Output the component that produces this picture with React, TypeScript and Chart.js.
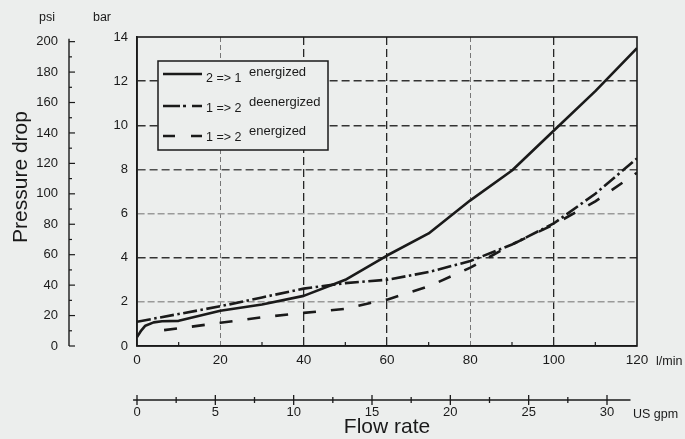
import React, { useEffect, useRef } from "react";
import { Chart, registerables } from "chart.js";

Chart.register(...registerables);

const BG = "#eceeed";
const INK = "#1a1a1a";
const FONT = "'Liberation Sans', Arial, Helvetica, sans-serif";

// axis ranges
const FLOW_MAX = 120; // l/min
const BAR_MAX = 14; // bar
const PSI_PER_BAR = 14.5038;
const LPM_PER_GPM = 3.76; // as drawn on the reference scale

// series: 2 => 1 energized (solid)
const solidFlow = [0, 1, 2, 4, 6, 10, 20, 30, 40, 50, 60, 70, 80, 90, 100, 110, 120];
const solidBar = [0.4, 0.7, 0.92, 1.07, 1.12, 1.14, 1.6, 1.88, 2.27, 3.0, 4.1, 5.1, 6.6, 7.95, 9.75, 11.55, 13.5];

// series: 1 => 2 deenergized (dash-dot)
const dashDotFlow = [0, 10, 20, 30, 40, 50, 60, 70, 80, 90, 100, 110, 120];
const dashDotBar = [1.1, 1.45, 1.8, 2.2, 2.6, 2.85, 3.0, 3.35, 3.85, 4.6, 5.55, 6.9, 8.5];

// series: 1 => 2 energized (dashed)
const dashFlow = [6.5, 10, 20, 30, 40, 50, 56, 60, 70, 80, 90, 100, 110, 120];
const dashBar = [0.72, 0.8, 1.05, 1.3, 1.5, 1.68, 1.95, 2.1, 2.7, 3.55, 4.6, 5.5, 6.55, 7.85];

const seriesCodes = ["2 => 1", "1 => 2", "1 => 2"];
const seriesStates = ["energized", "deenergized", "energized"];

const toPoints = (xs: number[], ys: number[]) => xs.map((x, i) => ({ x, y: ys[i] }));

const legendDash = [[], [17, 3, 3, 6, 12, 100], [12, 16, 12, 100]];

const decor = {
  id: "decor",
  beforeDraw(chart: any) {
    const { ctx, width, height } = chart;
    ctx.save();
    ctx.fillStyle = BG;
    ctx.fillRect(0, 0, width, height);
    ctx.restore();
  },
  afterDraw(chart: any) {
    const { ctx, chartArea: a, scales } = chart;
    const xs = scales.x;
    const ys = scales.y;
    const psi = scales.psi;
    const gpm = scales.gpm;
    const line = (x1: number, y1: number, x2: number, y2: number) => {
      ctx.beginPath();
      ctx.moveTo(x1, y1);
      ctx.lineTo(x2, y2);
      ctx.stroke();
    };
    ctx.save();
    ctx.strokeStyle = INK;
    ctx.setLineDash([]);
    // plot frame
    ctx.lineWidth = 1.6;
    ctx.strokeRect(a.left, a.top, a.right - a.left, a.bottom - a.top);
    // minor ticks on flow axis
    ctx.lineWidth = 1.2;
    for (let v = 10; v < FLOW_MAX; v += 20) {
      const px = xs.getPixelForValue(v);
      line(px, a.bottom, px, a.bottom - 4);
    }
    // psi axis
    const lx = psi.right;
    ctx.lineWidth = 1.4;
    line(lx, psi.getPixelForValue(0), lx, psi.getPixelForValue(200) - 3);
    ctx.lineWidth = 1.2;
    for (let v = 0; v <= 200; v += 10) {
      const py = psi.getPixelForValue(v);
      line(lx, py, lx + (v % 20 === 0 ? 6 : 3), py);
    }
    // gpm axis
    const gy = gpm.top;
    ctx.lineWidth = 1.3;
    line(gpm.getPixelForValue(-0.25), gy, gpm.getPixelForValue(31.5), gy);
    for (let v = 0; v <= 30; v += 2.5) {
      const px = gpm.getPixelForValue(v);
      const h = v % 5 === 0 ? 5 : 3;
      line(px, gy - h, px, gy + h);
    }
    // texts
    ctx.fillStyle = INK;
    ctx.textBaseline = "middle";
    ctx.textAlign = "center";
    ctx.font = `12.5px ${FONT}`;
    ctx.fillText("psi", lx - 22, a.top - 19);
    ctx.fillText("bar", ys.right - 35, a.top - 19);
    ctx.textAlign = "left";
    ctx.fillText("l/min", xs.right + 19, a.bottom + 16);
    ctx.fillText("US gpm", gpm.right - 4, gy + 15);
    ctx.textAlign = "center";
    ctx.font = `21px ${FONT}`;
    ctx.fillText("Flow rate", (a.left + a.right) / 2, 427);
    ctx.save();
    ctx.translate(21, 177);
    ctx.rotate(-Math.PI / 2);
    ctx.fillText("Pressure drop", 0, 0);
    ctx.restore();

    // legend
    const bx = a.left + 21;
    const by = a.top + 24;
    ctx.fillStyle = BG;
    ctx.fillRect(bx, by, 170, 89);
    ctx.lineWidth = 1.5;
    ctx.strokeStyle = INK;
    ctx.strokeRect(bx, by, 170, 89);
    const lineOff = [13, 45, 75];
    const codeOff = [18, 48, 77];
    const stateOff = [11, 41, 70];
    for (let i = 0; i < 3; i++) {
      ctx.save();
      ctx.lineWidth = 2.6;
      ctx.lineCap = "butt";
      ctx.setLineDash(legendDash[i]);
      line(bx + 5, by + lineOff[i], bx + 44, by + lineOff[i]);
      ctx.restore();
      ctx.fillStyle = INK;
      ctx.textAlign = "left";
      ctx.font = `12.5px ${FONT}`;
      ctx.fillText(seriesCodes[i], bx + 48, by + codeOff[i]);
      ctx.font = `13px ${FONT}`;
      ctx.fillText(seriesStates[i], bx + 91, by + stateOff[i]);
    }
    ctx.restore();
  },
};

const xGridStyle = (v: number | undefined) => {
  if (v === undefined || v === 0 || v === FLOW_MAX) return null;
  return v === 20 || v === 80
    ? { color: "#777777", width: 1, dash: [5, 3] }
    : { color: "#262626", width: 1.3, dash: [8, 4] };
};

const yGridStyle = (v: number | undefined) => {
  if (v === undefined || v === 0 || v === BAR_MAX) return null;
  if (v === 2 || v === 6) return { color: "#9a9a9a", width: 1.5, dash: [7, 3] };
  if (v === 8) return { color: "#505050", width: 1.4, dash: [8, 4] };
  return { color: "#333333", width: 1.4, dash: [8, 4] };
};

export default function App() {
  const ref = useRef<HTMLCanvasElement>(null);
  useEffect(() => {
    document.body.style.margin = "0";
    document.body.style.background = BG;
    const tickFont = { family: FONT, size: 13 };
    const chart = new Chart(ref.current as HTMLCanvasElement, {
      type: "line",
      data: {
        datasets: [
          {
            label: "2 => 1 energized",
            data: toPoints(solidFlow, solidBar),
            borderColor: INK,
            borderWidth: 2.6,
            pointRadius: 0,
            tension: 0,
            borderJoinStyle: "round",
          },
          {
            label: "1 => 2 deenergized",
            data: toPoints(dashDotFlow, dashDotBar),
            borderColor: INK,
            borderWidth: 2.6,
            borderDash: [14, 3.5, 2.5, 3.5],
            pointRadius: 0,
            tension: 0,
          },
          {
            label: "1 => 2 energized",
            data: toPoints(dashFlow, dashBar),
            borderColor: INK,
            borderWidth: 2.6,
            borderDash: [13, 15],
            pointRadius: 0,
            tension: 0,
          },
        ],
      } as any,
      options: {
        animation: false,
        responsive: false,
        maintainAspectRatio: false,
        layout: { padding: { top: 37, right: 48, left: 0, bottom: 0 } },
        plugins: { legend: { display: false }, tooltip: { enabled: false } },
        scales: {
          x: {
            type: "linear",
            position: "bottom",
            weight: 0,
            min: 0,
            max: FLOW_MAX,
            ticks: { stepSize: 20, padding: 6, color: INK, font: { family: FONT, size: 13.5 }, maxRotation: 0 },
            grid: {
              drawTicks: false,
              color: (c: any) => xGridStyle(c.tick?.value)?.color ?? "rgba(0,0,0,0)",
              lineWidth: (c: any) => xGridStyle(c.tick?.value)?.width ?? 0,
            },
            border: {
              display: true,
              color: INK,
              width: 1.6,
              dash: (c: any) => xGridStyle(c.tick?.value)?.dash ?? [],
            },
            afterFit: (s: any) => {
              s.height = 54;
            },
          },
          gpm: {
            type: "linear",
            position: "bottom",
            weight: 1,
            min: 0,
            max: FLOW_MAX / LPM_PER_GPM,
            ticks: { stepSize: 5, includeBounds: false, padding: 5, color: INK, font: tickFont, maxRotation: 0 },
            grid: { display: false, drawTicks: false },
            border: { display: false },
            afterFit: (s: any) => {
              s.height = 39;
            },
          },
          y: {
            type: "linear",
            position: "left",
            weight: 0,
            min: 0,
            max: BAR_MAX,
            ticks: { stepSize: 2, padding: 9, color: INK, font: tickFont },
            grid: {
              drawTicks: false,
              color: (c: any) => yGridStyle(c.tick?.value)?.color ?? "rgba(0,0,0,0)",
              lineWidth: (c: any) => yGridStyle(c.tick?.value)?.width ?? 0,
            },
            border: {
              display: true,
              color: INK,
              width: 1.6,
              dash: (c: any) => yGridStyle(c.tick?.value)?.dash ?? [],
            },
            afterFit: (s: any) => {
              s.width = 68;
            },
          },
          psi: {
            type: "linear",
            position: "left",
            weight: 1,
            min: 0,
            max: BAR_MAX * PSI_PER_BAR,
            ticks: { stepSize: 20, includeBounds: false, padding: 11, color: INK, font: tickFont },
            grid: { display: false, drawTicks: false },
            border: { display: false },
            afterFit: (s: any) => {
              s.width = 69;
            },
          },
        },
      } as any,
      plugins: [decor],
    });
    return () => chart.destroy();
  }, []);
  return (
    <div style={{ width: 685, height: 439, background: BG }}>
      <canvas ref={ref} width={685} height={439} style={{ display: "block", width: 685, height: 439 }} />
    </div>
  );
}
